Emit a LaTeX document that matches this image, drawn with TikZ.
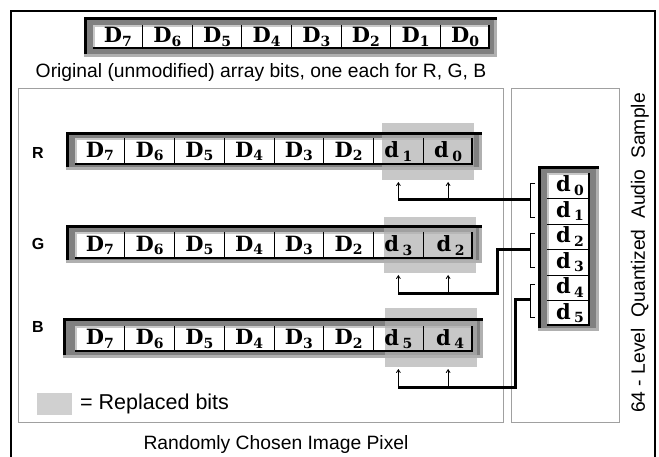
\documentclass[tikz,border=0pt]{standalone}
\usepackage{fontspec}
\setsansfont{Liberation Sans}
\newfontfamily\bitfont{DejaVu Serif}
\usetikzlibrary{arrows.meta}
\definecolor{frameDark}{HTML}{808080}
\definecolor{frameLight}{HTML}{B0B0B0}
\definecolor{rimLight}{HTML}{C8C8C8}
\definecolor{boxLine}{HTML}{A0A0A0}
\definecolor{replaced}{HTML}{B0B0B0}
\definecolor{swatch}{HTML}{D0D0D0}
\newcommand\bD[1]{\textbf{D}\raisebox{-3.5pt}{\fontsize{14}{14}\selectfont\textbf{#1}}}
\newcommand\bd[1]{\textbf{d}\,\raisebox{-3.5pt}{\fontsize{14}{14}\selectfont\textbf{#1}}}
% fills of a bit array: outer x0,y0,x1,y1, cells x0,y0,x1,y1
\newcommand\bitfill[8]{%
  \fill[frameLight] (#1,#2) rectangle (#3,#4);
  \fill[frameDark] (#1,#2) rectangle ({#3-3},{#4-3});
  \fill[white] (#5,#6) rectangle (#7,#8);
  \draw[rimLight, line width=2pt] ({#5+1},#8) -- ({#5+1},{#6+1}) -- (#7,{#6+1});
}
% black edges of a bit array
\newcommand\bitlines[8]{%
  \draw[line width=2pt] (#5,{#8-1}) -- ({#7-1},{#8-1}) -- ({#7-1},#6);
  \draw[line width=3pt] ({#1+1.5},{#4-3}) -- ({#1+1.5},{#2+1.5}) -- (#3,{#2+1.5});
}
\tikzset{
  lab/.style={font=\sffamily\fontsize{19.3}{22}\selectfont, inner sep=0pt},
  rgb/.style={font=\sffamily\bfseries\fontsize{16}{19}\selectfont, inner sep=0pt},
  bit/.style={font=\bitfont\fontsize{21}{22}\selectfont, inner sep=0pt},
  sep/.style={line width=0.8pt},
  conn/.style={line width=3pt},
  arr/.style={line width=0.8pt, -{Straight Barb[length=3pt,width=4pt]}},
  brk/.style={line width=0.8pt},
  panel/.style={draw=boxLine, line width=1pt},
  repl/.style={fill=replaced, opacity=0.7}
}
\begin{document}
\begin{tikzpicture}[x=1pt,y=-1pt]
\useasboundingbox (0,0) rectangle (659,457);
% outer frame
\draw[line width=2.5pt] (11,457) -- (11,11) -- (655,11) -- (655,457);
% panels
\draw[panel] (18,89) rectangle (503,422);
\draw[panel] (511,89) rectangle (619,422);

% top array
\bitfill{84}{17}{497}{57}{93}{25}{490}{49}
\bitlines{84}{17}{497}{57}{93}{25}{490}{49}
\foreach \k in {1,...,7} \draw[sep] ({93+\k*49.625},25) -- ({93+\k*49.625},48);
\foreach[count=\k] \t in {7,6,5,4,3,2,1,0}
  \node[bit] (T\t) at ({93+(\k-0.5)*49.625},37) {\bD{\t}};
\node[lab] (cap) at (261,73) {Original (unmodified) array bits, one each for R, G, B};

% R row
\node[rgb] (lR) at (38,153) {R};
\bitfill{66}{132}{482}{170}{75}{138}{473}{165}
\fill[repl] (382,123) rectangle (474,180);
\bitlines{66}{132}{482}{170}{75}{138}{473}{165}
\foreach \k in {1,...,7} \draw[sep] ({75+\k*49.75},138) -- ({75+\k*49.75},164);
\foreach[count=\k] \t in {7,6,5,4,3,2}
  \node[bit] (R\t) at ({75+(\k-0.5)*49.75},151.5) {\bD{\t}};
\node[bit] (Rd1) at ({75+6.5*49.75},151.5) {\bd{1}};
\node[bit] (Rd0) at ({75+7.5*49.75},151.5) {\bd{0}};

% G row
\node[rgb] (lG) at (38,244) {G};
\bitfill{66}{225}{482}{263}{75}{232}{473}{259}
\fill[repl] (384,217) rectangle (476,273);
\bitlines{66}{225}{482}{263}{75}{232}{473}{259}
\foreach \k in {1,...,7} \draw[sep] ({75+\k*49.75},232) -- ({75+\k*49.75},258);
\foreach[count=\k] \t in {7,6,5,4,3,2}
  \node[bit] (G\t) at ({75+(\k-0.5)*49.75},245.5) {\bD{\t}};
\node[bit] (Gd3) at ({75+6.5*49.75},245.5) {\bd{3}};
\node[bit] (Gd2) at ({75+7.5*49.75},245.5) {\hspace{5pt}\bd{2}};

% B row
\node[rgb] (lB) at (38,327) {B};
\bitfill{63}{318}{483}{358}{75}{326}{473}{352}
\fill[repl] (385,308) rectangle (477,367);
\bitlines{63}{318}{483}{358}{75}{326}{473}{352}
\foreach \k in {1,...,7} \draw[sep] ({75+\k*49.75},326) -- ({75+\k*49.75},351);
\foreach[count=\k] \t in {7,6,5,4,3,2}
  \node[bit] (B\t) at ({75+(\k-0.5)*49.75},339) {\bD{\t}};
\node[bit] (Bd5) at ({75+6.5*49.75},339) {\bd{5}};
\node[bit] (Bd4) at ({75+7.5*49.75},339) {\hspace{4pt}\bd{4}};

% audio sample array
\bitfill{538}{166}{599}{331}{547}{173}{590}{326}
\bitlines{538}{166}{599}{331}{547}{173}{590}{326}
\foreach \k in {1,...,5} \draw[sep] (547,{173+\k*25.5}) -- (589,{173+\k*25.5});
\node[bit] (a0) at (570,{173+0.5*25.5}) {\bd{0}};
\node[bit] (a1) at (570,{173+1.5*25.5}) {\bd{1}};
\node[bit] (a2) at (570,{173+2.5*25.5}) {\bd{2}};
\node[bit] (a3) at (570,{173+3.5*25.5}) {\bd{3}};
\node[bit] (a4) at (570,{173+4.5*25.5}) {\bd{4}};
\node[bit] (a5) at (570,{173+5.5*25.5}) {\bd{5}};

% brackets
\coordinate (bA) at (530,200);
\coordinate (bB) at (530,250);
\coordinate (bC) at (530,300);
\draw[brk] (535,183) -- (530,183) -- (530,217) -- (535,217);
\draw[brk] (535,233) -- (530,233) -- (530,267) -- (535,267);
\draw[brk] (535,284) -- (530,284) -- (530,317) -- (535,317);

% connectors
\draw[conn] (bA) -- (Rd1 |- bA);
\draw[arr] (Rd1 |- bA) -- (Rd1 |- 0,182);
\draw[arr] (Rd0 |- bA) -- (Rd0 |- 0,182);

\coordinate (kB) at (497,294);
\draw[conn] (bB) -| (kB) -- (Gd3 |- kB);
\draw[arr] (Gd3 |- kB) -- (Gd3 |- 0,275);
\draw[arr] (Gd2 |- kB) -- (Gd2 |- 0,275);

\coordinate (kC) at (515,387);
\draw[conn] (bC) -| (kC) -- (Bd5 |- kC);
\draw[arr] (Bd5 |- kC) -- (Bd5 |- 0,369);
\draw[arr] (Bd4 |- kC) -- (Bd4 |- 0,369);

% legend and titles
\fill[swatch] (37,393) rectangle (72,415);
\node[lab, anchor=west, font=\sffamily\fontsize{21.5}{22}\selectfont] (leg) at (80,404) {= Replaced bits};
\node[lab] (title) at (276,445) {Randomly Chosen Image Pixel};
\node[lab, rotate=90] (vt) at (640,253) {64 - Level\ \ Quantized\ \ Audio\ \ Sample};
\end{tikzpicture}
\end{document}
